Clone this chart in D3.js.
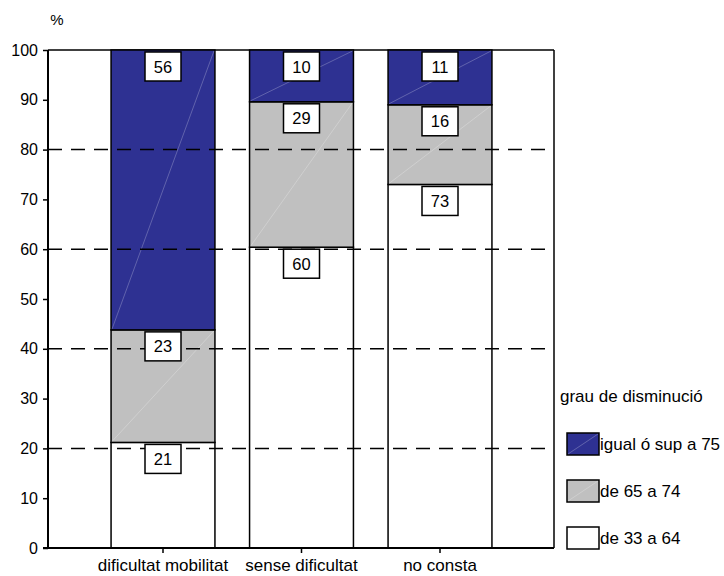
<!DOCTYPE html>
<html><head><meta charset="utf-8">
<script src="https://cdn.jsdelivr.net/npm/d3@7"></script>
<style>body{margin:0;background:#fff}svg{display:block}text{font-family:"Liberation Sans",Arial,sans-serif}</style>
</head><body><svg id="c" width="724" height="576"></svg>
<script>
const categories = ["dificultat mobilitat", "sense dificultat", "no consta"];
const seriesNames = ["de 33 a 64", "de 65 a 74", "igual ó sup a 75"];
const seriesColors = ["#ffffff", "#c0c0c0", "#2e3192"];
const low = [21.2, 60.4, 73];
const mid = [22.6, 29.2, 16];
const high = [56.2, 10.4, 11];
const yTicks = [0, 10, 20, 30, 40, 50, 60, 70, 80, 90, 100];
const gridValues = [20, 40, 60, 80];
const legendTitle = "grau de disminució";

const svg = d3.select("#c");
const L = 48, R = 554, T = 50, B = 548;
const y = d3.scaleLinear().domain([0, 100]).range([B, T]);
const x = d3.scaleBand().domain(categories).range([93.75, 509.25]).paddingInner(0.25).paddingOuter(0.125);

const rows = categories.map((c, i) => ({cat: c, s0: low[i], s1: mid[i], s2: high[i]}));
const stack = d3.stack().keys(["s0", "s1", "s2"])(rows);

// frame
svg.append("line").attr("x1", L).attr("x2", R).attr("y1", T).attr("y2", T).attr("stroke", "#000").attr("stroke-width", 1.5);
svg.append("line").attr("x1", R).attr("x2", R).attr("y1", T).attr("y2", B).attr("stroke", "#000").attr("stroke-width", 1.5);

// bars
const gBars = svg.append("g");
stack.forEach((layer, si) => {
  layer.forEach((d, ci) => {
    const x0 = x(categories[ci]), w = x.bandwidth();
    const yt = y(d[1]), yb = y(d[0]);
    gBars.append("rect").attr("x", x0).attr("y", yt).attr("width", w).attr("height", yb - yt)
      .attr("fill", seriesColors[si]).attr("stroke", "#000").attr("stroke-width", 1.5);
    if (si > 0) {
      gBars.append("line").attr("x1", x0 + 1).attr("y1", yb - 1).attr("x2", x0 + w - 1).attr("y2", yt + 1)
        .attr("stroke", "#ffffff").attr("stroke-opacity", 0.35).attr("stroke-width", 0.7);
    }
  });
});

// gridlines
svg.append("g").selectAll("line").data(gridValues).join("line")
  .attr("x1", L).attr("x2", R).attr("y1", d => y(d)).attr("y2", d => y(d))
  .attr("stroke", "#000").attr("stroke-width", 1.5).attr("stroke-dasharray", "14,9");

// labels
const fmt = d3.format(".0f");
const gLab = svg.append("g");
stack.forEach((layer, si) => {
  layer.forEach((d, ci) => {
    const cx = x(categories[ci]) + x.bandwidth() / 2;
    const yt = y(d[1]) + 2;
    gLab.append("rect").attr("x", cx - 18).attr("y", yt).attr("width", 36).attr("height", 29)
      .attr("fill", "#fff").attr("stroke", "#000").attr("stroke-width", 1.5);
    gLab.append("text").attr("x", cx).attr("y", yt + 20.5).attr("text-anchor", "middle")
      .attr("font-size", 16.5).text(fmt(d[1] - d[0]));
  });
});

// y axis
const yAxis = svg.append("g").attr("transform", `translate(${L},0)`)
  .call(d3.axisLeft(y).tickValues(yTicks).tickSize(5).tickPadding(5));
yAxis.select(".domain").attr("stroke-width", 2).attr("d", `M0,${T}V${B}`);
yAxis.selectAll(".tick line").attr("stroke-width", 1.5);
yAxis.selectAll("text").attr("font-size", 16).attr("font-family", "Liberation Sans, Arial, sans-serif").attr("fill", "#000");

// x axis
const xAxis = svg.append("g").attr("transform", `translate(0,${B})`)
  .call(d3.axisBottom(x).tickSize(5).tickPadding(6));
xAxis.select(".domain").attr("stroke-width", 2).attr("d", `M${L - 5},0H${R}`);
xAxis.selectAll(".tick line").attr("stroke-width", 1.5);
xAxis.selectAll("text").attr("font-size", 17).attr("font-family", "Liberation Sans, Arial, sans-serif").attr("fill", "#000");

svg.append("text").attr("x", 57).attr("y", 25).attr("text-anchor", "middle").attr("font-size", 15).text("%");

// legend
const lg = svg.append("g");
lg.append("text").attr("x", 560).attr("y", 402).attr("font-size", 17).text(legendTitle);
const legendOrder = [2, 1, 0];
legendOrder.forEach((si, k) => {
  const yy = 433 + k * 47;
  lg.append("rect").attr("x", 567).attr("y", yy).attr("width", 32).attr("height", 22)
    .attr("fill", seriesColors[si]).attr("stroke", "#000").attr("stroke-width", 1.5);
  if (si > 0) lg.append("line").attr("x1", 568).attr("y1", yy + 21).attr("x2", 598).attr("y2", yy + 1)
    .attr("stroke", "#fff").attr("stroke-opacity", 0.35).attr("stroke-width", 0.7);
  lg.append("text").attr("x", 600).attr("y", yy + 17).attr("font-size", 17).text(seriesNames[si]);
});
</script></body></html>
